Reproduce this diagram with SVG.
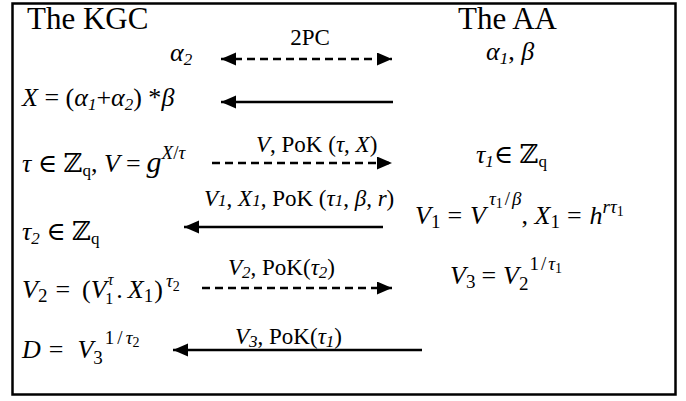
<svg xmlns="http://www.w3.org/2000/svg" width="686" height="401" viewBox="0 0 686 401">
<style>
.h{font-family:"Liberation Serif","Times New Roman",serif;font-size:31px;fill:#000}
.m{font-family:"Liberation Serif","DejaVu Serif",serif;font-size:26px;fill:#000}
.l{font-family:"Liberation Serif","DejaVu Serif",serif;font-size:23px;fill:#000}
.i{font-style:italic}
.s{font-size:17px}
.u{font-size:19px}
.k{font-size:16px}
.t{font-size:14px}
.ln{stroke:#000;stroke-width:2.5;fill:none}
.d{stroke-dasharray:8 5}
</style>
<defs>
<marker id="ah" markerUnits="userSpaceOnUse" markerWidth="16" markerHeight="14" refX="15" refY="6.5" orient="auto-start-reverse">
<path d="M0,0 L15,6.5 L0,13 z" fill="#000"/>
</marker>
</defs>
<rect x="12.5" y="3.5" width="663" height="391" fill="#fff" stroke="#000" stroke-width="2.5"/>
<g id="connectors">
<line class="ln d" x1="221" y1="59" x2="392" y2="59" marker-start="url(#ah)" marker-end="url(#ah)"/>
<line class="ln" x1="393" y1="102" x2="221" y2="102" marker-end="url(#ah)"/>
<line class="ln d" x1="212" y1="163" x2="392" y2="163" marker-end="url(#ah)"/>
<line class="ln" x1="383" y1="227" x2="184" y2="227" marker-end="url(#ah)"/>
<line class="ln d" x1="202" y1="288" x2="392" y2="288" marker-end="url(#ah)"/>
<line class="ln" x1="422" y1="350" x2="173" y2="350" marker-end="url(#ah)"/>
</g>
<g id="label-2pc"><text class="l" x="310" y="45" text-anchor="middle" font-size="25">2PC</text></g>
<g id="label-v-pok"><text class="l" x="256" y="152"><tspan class="i">V</tspan>, PoK (<tspan class="i">τ</tspan>, <tspan class="i">X</tspan>)</text></g>
<g id="label-v1-x1"><text class="l" x="204" y="206"><tspan class="i">V<tspan class="s">1</tspan></tspan>, <tspan class="i">X<tspan class="s">1</tspan></tspan>, PoK (<tspan class="i">τ<tspan class="s">1</tspan></tspan>, <tspan class="i">β</tspan>, <tspan class="i">r</tspan>)</text></g>
<g id="label-v2"><text class="l" x="228" y="275"><tspan class="i">V<tspan class="s" dy="3">2</tspan></tspan><tspan dy="-3">, PoK(</tspan><tspan class="i">τ<tspan class="s" dy="3">2</tspan></tspan><tspan dy="-3">)</tspan></text></g>
<g id="label-v3"><text class="l" x="235" y="344" font-size="24"><tspan class="i">V<tspan class="s" dy="3">3</tspan></tspan><tspan dy="-3">, PoK(</tspan><tspan class="i">τ<tspan class="s" dy="3">1</tspan></tspan><tspan dy="-3">)</tspan></text></g>
<g id="kgc">
<text class="h" x="27" y="29">The KGC</text>
<text class="m" x="170" y="61"><tspan class="i">α<tspan class="s" dy="4">2</tspan></tspan></text>
<text class="m" x="22" y="106"><tspan class="i">X</tspan> = (<tspan class="i">α<tspan class="s" dy="4">1</tspan></tspan><tspan dy="-4">+</tspan><tspan class="i">α<tspan class="s" dy="4">2</tspan></tspan><tspan dy="-4">) *</tspan><tspan class="i">β</tspan></text>
<text class="m" x="22" y="172"><tspan class="i">τ</tspan> ∈ ℤ<tspan class="s" dy="4">q</tspan><tspan dy="-4">, </tspan><tspan class="i">V</tspan><tspan dx="6">=</tspan><tspan class="i" font-size="30" dx="6">g</tspan><tspan class="u" dy="-13"><tspan class="i">X</tspan>/<tspan class="i">τ</tspan></tspan></text>
<text class="m" x="22" y="240"><tspan class="i">τ<tspan class="s" dy="4">2</tspan></tspan><tspan dy="-4"> ∈ ℤ</tspan><tspan class="s" dy="4">q</tspan></text>
<text class="m" x="22" y="298"><tspan class="i">V</tspan><tspan class="u" dy="4">2</tspan><tspan dy="-4" dx="8">=</tspan><tspan dx="12">(</tspan><tspan class="i">V</tspan><tspan class="k i" dy="-13" dx="1">τ</tspan><tspan class="k" dx="-8" dy="19">1</tspan><tspan dy="-6" dx="3">.</tspan><tspan class="i" dx="5">X</tspan><tspan class="u" dy="4">1</tspan><tspan dy="-4" dx="1">)</tspan><tspan class="u i" dy="-11" dx="3">τ</tspan><tspan class="t" dy="4">2</tspan></text>
<text class="m" x="22" y="358"><tspan class="i">D</tspan><tspan dx="8">=</tspan><tspan class="i" dx="14">V</tspan><tspan class="u" dy="6">3</tspan><tspan class="u" dy="-20" dx="2">1</tspan><tspan class="u" dx="3">/</tspan><tspan class="u i" dx="3">τ</tspan><tspan class="t" dy="3">2</tspan></text>
</g>
<g id="aa">
<text class="h" x="458" y="29">The AA</text>
<text class="m" x="486" y="60"><tspan class="i">α<tspan class="s" dy="4">1</tspan></tspan><tspan dy="-4">, </tspan><tspan class="i">β</tspan></text>
<text class="m" x="476" y="163"><tspan class="i">τ<tspan class="s" dy="4">1</tspan></tspan><tspan dy="-4">∈ ℤ</tspan><tspan class="s" dy="4">q</tspan></text>
<text class="m" x="415" y="224"><tspan class="i">V</tspan><tspan class="u" dy="4">1</tspan><tspan dy="-4" dx="7">=</tspan><tspan class="i" dx="8">V</tspan><tspan class="u" dy="-19" dx="3"><tspan class="i">τ</tspan><tspan class="t" dy="3">1</tspan><tspan dy="-3" dx="2">/</tspan><tspan class="i" dx="2">β</tspan></tspan><tspan dy="19">, </tspan><tspan class="i">X</tspan><tspan class="u" dy="4">1</tspan><tspan dy="-4" dx="7">=</tspan><tspan class="i" dx="8">h</tspan><tspan class="u i" dy="-11">rτ</tspan><tspan class="t" dy="3">1</tspan></text>
<text class="m" x="450" y="284"><tspan class="i">V</tspan><tspan class="u" dy="4">3</tspan><tspan dy="-4" dx="6">=</tspan><tspan class="i" dx="7">V</tspan><tspan class="u" dy="6">2</tspan><tspan class="u" dy="-20" dx="1">1</tspan><tspan class="u" dx="2">/</tspan><tspan class="u i" dx="2">τ</tspan><tspan class="t" dy="3">1</tspan></text>
</g>
</svg>
